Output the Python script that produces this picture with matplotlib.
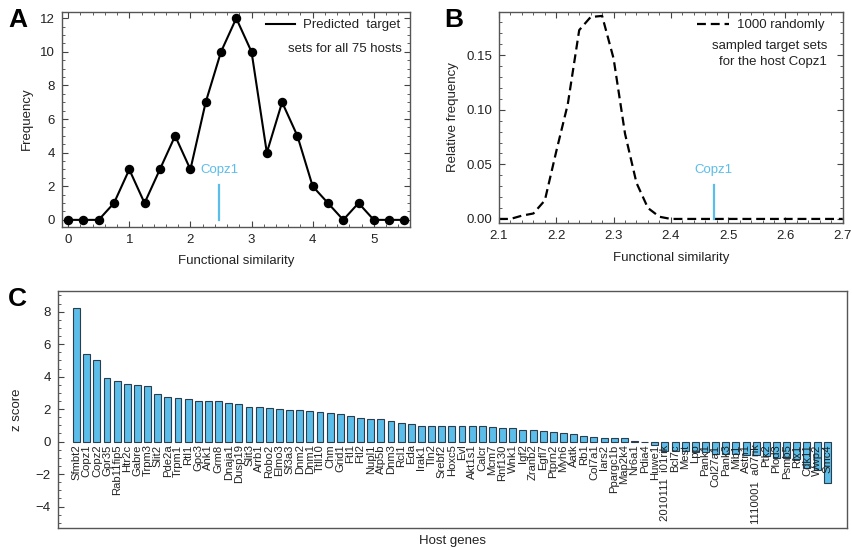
import matplotlib
matplotlib.use('Agg')
import matplotlib.pyplot as plt
from matplotlib.ticker import MultipleLocator, FormatStrFormatter

plt.rcParams['font.family'] = ['Liberation Sans', 'DejaVu Sans']
plt.rcParams['font.size'] = 9.5

# Panel A: histogram of functional similarity for all hosts
simA = [0, 0.25, 0.5, 0.75, 1, 1.25, 1.5, 1.75, 2, 2.25, 2.5, 2.75,
        3, 3.25, 3.5, 3.75, 4, 4.25, 4.5, 4.75, 5, 5.25, 5.5]
freqA = [0, 0, 0, 1, 3, 1, 3, 5, 3, 7, 10, 12, 10, 4, 7, 5, 2, 1, 0, 1, 0, 0, 0]
copz1A = 2.47
copz1A_top = 2.1

# Panel B: random target sets for Copz1
simB = [2.10, 2.12, 2.14, 2.16, 2.18, 2.20, 2.22, 2.24, 2.26, 2.28, 2.30,
        2.32, 2.34, 2.36, 2.38, 2.40, 2.42, 2.44, 2.46, 2.48, 2.50, 2.52,
        2.54, 2.56, 2.58, 2.60, 2.62, 2.64, 2.66, 2.68, 2.70]
relB = [0.000, 0.000, 0.003, 0.005, 0.017, 0.062, 0.105, 0.173, 0.185, 0.186,
        0.147, 0.078, 0.033, 0.010, 0.002, 0.000, 0, 0, 0, 0, 0, 0, 0, 0, 0,
        0, 0, 0, 0, 0, 0]
copz1B = 2.475
copz1B_top = 0.031

# Panel C: z scores of host genes
genes = ['Sfmbt2', 'Copz1', 'Copz2', 'Gpr35', 'Rab11fip5', 'Htr2c', 'Gabre',
         'Trpm3', 'Slit2', 'Pde2a', 'Trpm1', 'Rtl1', 'Gpc3', 'Ank1', 'Grm8',
         'Dnaja1', 'Dusp19', 'Slit3', 'Arrb1', 'Robo2', 'Elmo3', 'Sf3a3',
         'Dnm2', 'Dnm1', 'Ttll10', 'Chm', 'Grid1', 'Ftl1', 'Ftl2', 'Nupl1',
         'Atp5b', 'Dnm3', 'Rcl1', 'Eda', 'Irak1', 'Tln2', 'Srebf2', 'Hoxc5',
         'Evl', 'Akt1s1', 'Calcr', 'Mcm7', 'Rnf130', 'Wnk1', 'Igf2', 'Zranb2',
         'Egfl7', 'Ptprn2', 'Myh6', 'Aatk', 'Rb1', 'Col7a1', 'Iars2',
         'Ppargc1b', 'Map2k4', 'Nr6a1', 'Pdia4', 'Huwe1', '2010111  i01rik',
         'Bcl7c', 'Mest', 'Lpp', 'Pank1', 'Col27a1', 'Pank3', 'Mib1', 'Astn1',
         '1110001  a07rik', 'Ptk2', 'Plod3', 'Psmb5', 'Rfx1', 'Cdk11', 'Wwp2',
         'Smc4']
zscore = [8.2, 5.38, 5.05, 3.9, 3.73, 3.55, 3.47, 3.45, 2.92, 2.73, 2.69, 2.65,
          2.5, 2.5, 2.5, 2.36, 2.32, 2.12, 2.12, 2.09, 2.03, 1.95, 1.93, 1.89,
          1.85, 1.74, 1.68, 1.6, 1.48, 1.42, 1.37, 1.27, 1.17, 1.09, 0.98,
          0.98, 0.98, 0.98, 0.98, 0.96, 0.94, 0.92, 0.82, 0.82, 0.72, 0.70,
          0.66, 0.62, 0.51, 0.45, 0.33, 0.27, 0.25, 0.23, 0.21, 0.04, -0.05,
          -0.18, -0.55, -0.56, -0.57, -0.62, -0.66, -0.76, -0.77, -0.79, -0.81,
          -0.83, -0.87, -0.98, -1.02, -1.08, -1.6, -1.72, -2.52]

blue = '#5bbde9'
textc = '#222222'
fs = 9.5


def style_axes(ax, xminor, yminor, frame=True):
	if xminor:
		ax.xaxis.set_minor_locator(MultipleLocator(xminor))
	ax.yaxis.set_minor_locator(MultipleLocator(yminor))
	ax.tick_params(which='both', direction='in', top=frame, right=frame,
	               colors='#444444', labelcolor=textc, labelsize=fs)
	ax.tick_params(which='major', length=4, width=0.8, pad=5)
	ax.tick_params(which='minor', length=2, width=0.6)
	for s in ax.spines.values():
		s.set_color('#555555')
		s.set_linewidth(1.0)


fig = plt.figure(figsize=(8.52, 5.5), dpi=100)

# ---- A ----
axA = fig.add_axes([0.0728, 0.588, 0.409, 0.391])
axA.plot(simA, freqA, color='black', lw=1.5, marker='o', ms=5.8,
         label='Predicted  target')
axA.plot([copz1A, copz1A], [0, copz1A_top], color=blue, lw=1.6)
axA.text(copz1A, 2.95, 'Copz1', color=blue, ha='center', va='center', fontsize=fs)
axA.set_xlim(-0.1, 5.6)
axA.set_ylim(-0.4, 12.4)
axA.xaxis.set_major_locator(MultipleLocator(1))
axA.yaxis.set_major_locator(MultipleLocator(2))
style_axes(axA, 0.2, 0.5)
leg = axA.legend(loc='upper right', frameon=False, handlelength=2.2,
                 handletextpad=0.6, fontsize=fs, bbox_to_anchor=(0.985, 0.99),
                 borderaxespad=0.0)
for t in leg.get_texts():
	t.set_color(textc)
leg.legend_handles[0].set_marker('')
axA.text(0.975, 0.825, 'sets for all 75 hosts', transform=axA.transAxes,
         ha='right', va='center', fontsize=fs, color=textc)
axA.set_xlabel('Functional similarity', fontsize=fs, color=textc, labelpad=7)
axA.set_ylabel('Frequency', fontsize=fs, color=textc, labelpad=5)
fig.text(0.010, 0.985, 'A', fontsize=19, fontweight='bold', va='top')

# ---- B ----
axB = fig.add_axes([0.5857, 0.594, 0.4034, 0.385])
axB.plot(simB, relB, color='black', lw=1.6, ls=(0, (4, 2.2)),
         label='1000 randomly')
axB.plot([copz1B, copz1B], [0, copz1B_top], color=blue, lw=1.6)
axB.text(copz1B, 0.045, 'Copz1', color=blue, ha='center', va='center', fontsize=fs)
axB.set_xlim(2.1, 2.7)
axB.set_ylim(-0.004, 0.19)
axB.xaxis.set_major_locator(MultipleLocator(0.1))
axB.yaxis.set_major_locator(MultipleLocator(0.05))
axB.yaxis.set_major_formatter(FormatStrFormatter('%.2f'))
style_axes(axB, 0.02, 0.01)
leg = axB.legend(loc='upper right', frameon=False, handlelength=2.4,
                 handletextpad=0.6, fontsize=fs, bbox_to_anchor=(0.962, 0.99),
                 borderaxespad=0.0)
for t in leg.get_texts():
	t.set_color(textc)
axB.text(0.954, 0.835, 'sampled target sets', transform=axB.transAxes,
         ha='right', va='center', fontsize=fs, color=textc)
axB.text(0.954, 0.764, 'for the host Copz1', transform=axB.transAxes,
         ha='right', va='center', fontsize=fs, color=textc)
axB.set_xlabel('Functional similarity', fontsize=fs, color=textc, labelpad=7)
axB.set_ylabel('Relative frequency', fontsize=fs, color=textc, labelpad=5)
fig.text(0.522, 0.985, 'B', fontsize=19, fontweight='bold', va='top')

# ---- C ----
axC = fig.add_axes([0.068, 0.0405, 0.926, 0.4304])
idx = list(range(len(genes)))
axC.bar(idx, zscore, width=0.68, color=blue, edgecolor='#2c3e4c', lw=0.8)
for i, g in enumerate(genes):
	axC.annotate(g, (i, 0), xytext=(0, -2), textcoords='offset points',
	             rotation=90, ha='center', va='top', fontsize=8.1, color=textc)
axC.set_xlim(-1.84, 75.94)
axC.set_ylim(-5.3, 9.27)
axC.set_xticks([])
axC.yaxis.set_major_locator(MultipleLocator(2))
style_axes(axC, None, 0.5, frame=False)
axC.set_ylabel('z score', fontsize=fs, color=textc, labelpad=9)
axC.set_xlabel('Host genes', fontsize=fs, color=textc, labelpad=5)
fig.text(0.009, 0.478, 'C', fontsize=19, fontweight='bold', va='top')

fig.savefig('out.png', dpi=100)
